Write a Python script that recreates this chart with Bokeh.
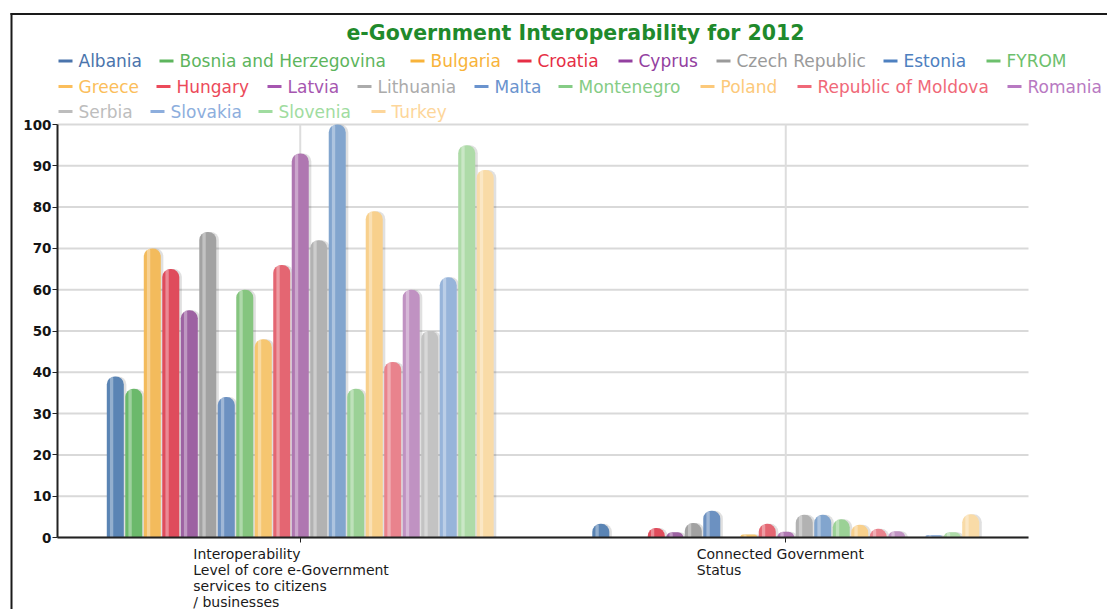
from bokeh.plotting import figure
from bokeh.models import ColumnDataSource, Range1d, FixedTicker, Label, BoxAnnotation
from bokeh.transform import dodge
from bokeh.embed import file_html
from bokeh.resources import INLINE

# ---------------- data ----------------
title_text = "e-Government Interoperability for 2012"
categories = [
    "Interoperability\nLevel of core e-Government\nservices to citizens\n/ businesses",
    "Connected Government\nStatus",
]
countries = [
    "Albania", "Bosnia and Herzegovina", "Bulgaria", "Croatia", "Cyprus",
    "Czech Republic", "Estonia", "FYROM", "Greece", "Hungary", "Latvia",
    "Lithuania", "Malta", "Montenegro", "Poland", "Republic of Moldova",
    "Romania", "Serbia", "Slovakia", "Slovenia", "Turkey",
]
interoperability = [39, 36, 70, 65, 55, 74, 34, 60, 48, 66, 93,
                    72, 100, 36, 79, 42.5, 60, 50, 63, 95, 89]
connected = [3.3, 0, 0, 2.3, 1.3, 3.5, 6.5, 0, 0.7, 3.3, 1.4,
             5.5, 5.5, 4.4, 3.1, 2.1, 1.5, 0, 0.6, 1.3, 5.6]
y_ticks = [0, 10, 20, 30, 40, 50, 60, 70, 80, 90, 100]

# ---------------- styles ----------------
legend_colors = [
    "#4A74AC", "#5DB55D", "#F8B33A", "#E62E45", "#9340A0", "#9A9A9A",
    "#4E80C0", "#6DC06D", "#FBBE5B", "#EC4A5A", "#A656B0", "#ABABAB",
    "#6A93CE", "#85CC85", "#FCC97A", "#F06878", "#B879C2", "#BDBDBD",
    "#8DAEDD", "#A0DCA0", "#FDD69A",
]
bar_colors = [
    "#5A84B4", "#6BB96B", "#F3BB5C", "#DF4C5C", "#9D62A2", "#A2A2A2",
    "#6C91C1", "#85C57F", "#F6C670", "#E46672", "#AF77B1", "#B2B2B2",
    "#82A5CE", "#9BD196", "#F8D08C", "#E9838D", "#C092C2", "#C3C3C3",
    "#97B4DA", "#AEDBA8", "#F9DBA7",
]
FONT = "DejaVu Sans"
GRID = "#D9D9D9"
AXIS = "#222222"

# ---------------- layout (pixels) ----------------
W, H = 1107, 609
AX_LEFT, AX_RIGHT = 57, 1028     # horizontal extent of the plotting area
AX_TOP, AX_BOTTOM = 124, 537     # vertical extent of the plotting area

ncat = len(categories)
cat_pos = [i + 0.5 for i in range(ncat)]
y_max = y_ticks[-1]
px_x = (AX_RIGHT - AX_LEFT) / ncat
px_y = (AX_BOTTOM - AX_TOP) / y_max


def fx(page_x):
    return page_x


def fy(page_y):
    return H - page_y


legend_x = [58, 159, 410, 517, 618, 716, 883, 986,
            58, 156, 267, 357, 474, 558, 700, 797, 1007,
            58, 150, 258, 371]
legend_row = [0] * 8 + [1] * 9 + [2] * 4
row_y = [60.5, 86.0, 111.0]
cat_half_block = [107, 89]

p = figure(
    width=W, height=H,
    x_range=Range1d(-AX_LEFT / px_x, (W - AX_LEFT) / px_x),
    y_range=Range1d(-(H - AX_BOTTOM) / px_y, AX_BOTTOM / px_y),
    output_backend="svg", toolbar_location=None, min_border=0,
)
p.title.visible = False
p.outline_line_color = None
p.grid.visible = False

# axes drawn at fixed data locations inside the full-canvas frame
p.yaxis.fixed_location = 0
p.yaxis.bounds = (0, y_max)
p.yaxis.ticker = FixedTicker(ticks=y_ticks)
p.yaxis.axis_line_color = AXIS
p.yaxis.axis_line_width = 2
p.yaxis.major_tick_line_color = AXIS
p.yaxis.major_tick_out = 5
p.yaxis.major_tick_in = 0
p.yaxis.minor_tick_line_color = None
p.yaxis.major_label_standoff = 1
p.yaxis.major_label_text_font = FONT
p.yaxis.major_label_text_font_size = "13.5px"
p.yaxis.major_label_text_font_style = "bold"
p.yaxis.major_label_text_color = "#151515"

p.xaxis.fixed_location = 0
p.xaxis.bounds = (0, ncat)
p.xaxis.ticker = FixedTicker(ticks=cat_pos)
p.xaxis.minor_tick_line_color = None
p.xaxis.axis_line_color = AXIS
p.xaxis.axis_line_width = 2
p.xaxis.major_tick_line_color = AXIS
p.xaxis.major_tick_out = 5
p.xaxis.major_tick_in = 0
p.xaxis.major_label_overrides = {c: "" for c in cat_pos}

# grid lines limited to the plotting area
p.segment(x0=[0] * len(y_ticks), x1=[ncat] * len(y_ticks), y0=y_ticks, y1=y_ticks,
          line_color=GRID, line_width=2)
p.segment(x0=cat_pos, x1=cat_pos, y0=[0] * ncat, y1=[y_max] * ncat,
          line_color="#DDDDDD", line_width=2)

# bars
n = len(countries)
group_w = 0.8
slot = group_w / n
data = dict(cat=cat_pos)
for i in range(n):
    data[f"s{i}"] = [interoperability[i], connected[i]]
src = ColumnDataSource(data)

offsets = [-group_w / 2 + slot * (i + 0.5) for i in range(n)]
for i in range(n):
    p.vbar(x=dodge("cat", offsets[i] + slot * 0.14), top=f"s{i}",
           width=slot * 0.92, source=src, fill_color="black", fill_alpha=0.12,
           line_color=None, border_radius=(8, 8, 0, 0))
for i in range(n):
    p.vbar(x=dodge("cat", offsets[i]), top=f"s{i}",
           width=slot * 0.92, source=src, fill_color=bar_colors[i],
           line_color=None, border_radius=(8, 8, 0, 0))
for i in range(n):
    p.vbar(x=dodge("cat", offsets[i] - slot * 0.2), top=f"s{i}",
           width=slot * 0.18, source=src, fill_color="white", fill_alpha=0.35,
           line_color=None, border_radius=(2, 2, 0, 0))

# title
p.add_layout(Label(x=fx(575), y=fy(32), x_units="screen", y_units="screen",
                   text=title_text, text_align="center", text_baseline="middle",
                   text_font=FONT, text_font_style="bold",
                   text_font_size="20.5px", text_color="#1F8A2C"))

# legend
for i, c in enumerate(countries):
    yy = fy(row_y[legend_row[i]])
    p.add_layout(Label(x=fx(legend_x[i] + 20), y=yy, x_units="screen", y_units="screen",
                       text=c, text_align="left", text_baseline="middle",
                       text_font=FONT, text_font_size="17px",
                       text_color=legend_colors[i]))
    p.add_layout(BoxAnnotation(left=fx(legend_x[i]), right=fx(legend_x[i] + 14),
                               top=yy + 1.5, bottom=yy - 1.5,
                               left_units="screen", right_units="screen",
                               top_units="screen", bottom_units="screen",
                               fill_color=legend_colors[i], fill_alpha=1,
                               line_color=None))

# category labels (left-aligned blocks centred under each category)
for i, c in enumerate(categories):
    p.add_layout(Label(x=cat_pos[i], y=0, x_offset=-cat_half_block[i], y_offset=-8,
                       text=c, text_align="left", text_baseline="top",
                       text_font=FONT, text_font_size="14px",
                       text_line_height=1.0, text_color="#1a1a1a"))

# chart border (left / top edges)
p.add_layout(BoxAnnotation(left=fx(10), right=fx(12), top=fy(12.5), bottom=fy(H),
                           left_units="screen", right_units="screen",
                           top_units="screen", bottom_units="screen",
                           fill_color="#1a1a1a", fill_alpha=1, line_color=None))
p.add_layout(BoxAnnotation(left=fx(10), right=fx(W), top=fy(12.5), bottom=fy(14.5),
                           left_units="screen", right_units="screen",
                           top_units="screen", bottom_units="screen",
                           fill_color="#1a1a1a", fill_alpha=1, line_color=None))

open("out.html", "w").write(file_html(p, INLINE))
